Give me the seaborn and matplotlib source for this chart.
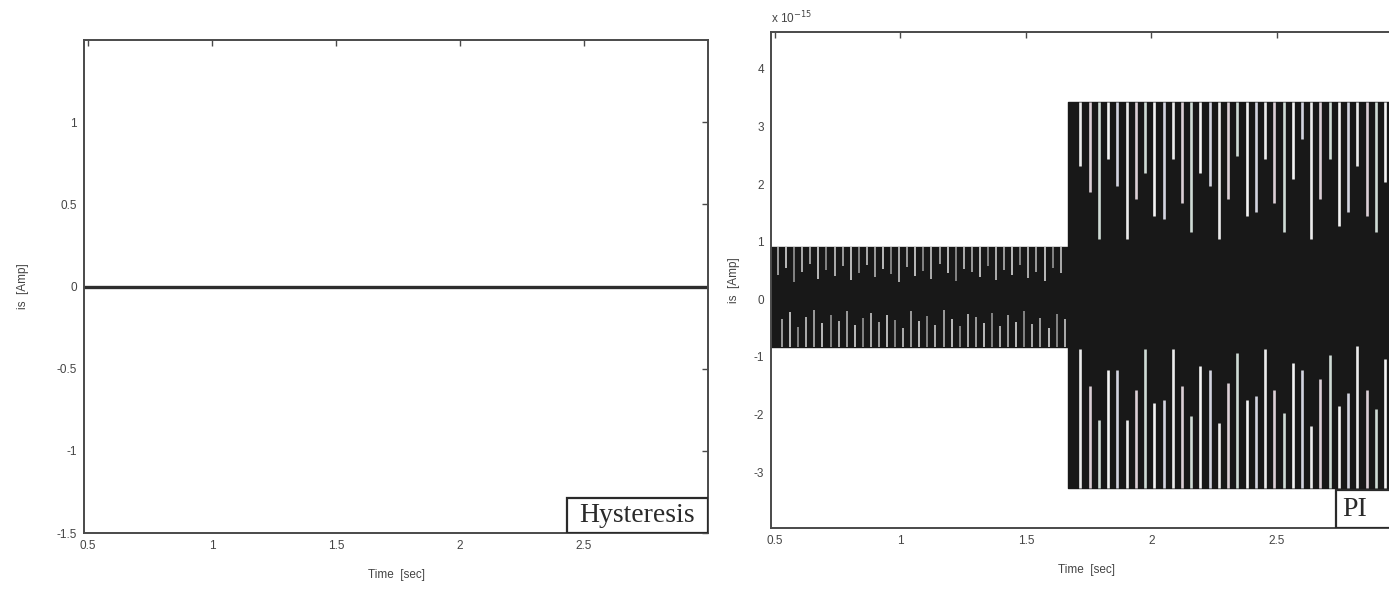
import numpy as np
import matplotlib
matplotlib.use("Agg")
import matplotlib.pyplot as plt
from matplotlib.patches import Rectangle
import seaborn as sns

sns.set_theme(style="white")
plt.rcParams["font.family"] = ["Liberation Sans", "DejaVu Sans"]

# ---- Hysteresis controller: stator current error (flat at zero) ----
hyst_time = [0.484, 3.0]
hyst_is = [0.0, 0.0]

# ---- PI controller: current envelope before / after the step ----
env_time = [0.484, 1.67, 1.67, 3.0]
env_upper = [0.90, 0.90, 3.42, 3.42]
env_lower = [-0.83, -0.83, -3.27, -3.27]

# ripple troughs inside the envelope (first segment)
pre_start, pre_period = 0.512, 0.0322
pre_top_depth = [0.42, 0.55, 0.30, 0.48, 0.62, 0.35, 0.50, 0.40, 0.58, 0.33, 0.46, 0.60,
                 0.38, 0.52, 0.44, 0.30, 0.56, 0.41, 0.49, 0.36, 0.61, 0.45, 0.32, 0.53,
                 0.47, 0.39, 0.57, 0.34, 0.50, 0.43, 0.59, 0.37, 0.48, 0.31, 0.54, 0.45]
pre_bottom_height = [-0.35, -0.22, -0.48, -0.30, -0.18, -0.42, -0.27, -0.38, -0.20, -0.45,
                     -0.33, -0.24, -0.40, -0.28, -0.36, -0.50, -0.21, -0.37, -0.29, -0.44,
                     -0.19, -0.34, -0.47, -0.26, -0.31, -0.41, -0.23, -0.46, -0.28, -0.39,
                     -0.20, -0.43, -0.32, -0.49, -0.25, -0.35]

# ripple troughs inside the envelope (second segment)
post_start, post_period = 1.718, 0.0368
post_top_depth = [2.32, 1.86, 1.04, 2.43, 1.97, 1.04, 1.74, 2.20, 1.45, 1.39, 2.43, 1.68,
                  1.16, 2.20, 1.97, 1.04, 1.74, 2.49, 1.45, 1.51, 2.43, 1.68, 1.16, 2.09,
                  2.78, 1.04, 1.74, 2.43, 1.28, 1.51, 2.32, 1.45, 1.16, 2.03]
post_bottom_height = [-0.87, -1.51, -2.09, -1.22, -1.22, -2.09, -1.57, -0.87, -1.80, -1.74,
                      -0.87, -1.51, -2.03, -1.16, -1.22, -2.14, -1.45, -0.93, -1.74, -1.68,
                      -0.87, -1.57, -1.97, -1.10, -1.22, -2.20, -1.39, -0.96, -1.86, -1.62,
                      -0.81, -1.57, -1.91, -1.04]

x_ticks = [0.5, 1, 1.5, 2, 2.5]
x_ticklabels = ["0.5", "1", "1.5", "2", "2.5"]
left_yticks = [-1.5, -1, -0.5, 0, 0.5, 1]
left_yticklabels = ["-1.5", "-1", "-0.5", "0", "0.5", "1"]
right_yticks = [-3, -2, -1, 0, 1, 2, 3, 4]
right_yticklabels = ["-3", "-2", "-1", "0", "1", "2", "3", "4"]

W, H = 1389, 590
fig = plt.figure(figsize=(W / 100, H / 100), dpi=100)
fig.patch.set_facecolor("white")

def px_axes(x0, y0, x1, y1):
    return fig.add_axes([x0 / W, 1 - y1 / H, (x1 - x0) / W, (y1 - y0) / H])

ax1 = px_axes(84, 40, 708, 533)
ax2 = px_axes(771, 32, 1402, 528)

frame_col = "#4a4a4a"
tick_col = "#444444"
for ax in (ax1, ax2):
    ax.set_facecolor("white")
    for s in ax.spines.values():
        s.set_color(frame_col)
        s.set_linewidth(1.4)
    ax.tick_params(direction="in", top=True, right=True, length=4, width=1.0,
                   colors=frame_col, labelcolor=tick_col, labelsize=8.5, pad=5)
    ax.set_xlim(0.484, 3.0)
    ax.set_xticks(x_ticks)
    ax.set_xticklabels(x_ticklabels)
    ax.set_xlabel("Time  [sec]", fontsize=8.5, color=tick_col, labelpad=12)
    ax.grid(False)

# left panel
sns.lineplot(x=hyst_time, y=hyst_is, ax=ax1, color="#2e2e2e", linewidth=2.4,
             estimator=None, sort=False)
ax1.set_ylim(-1.5, 1.5)
ax1.set_yticks(left_yticks)
ax1.set_yticklabels(left_yticklabels)
ax1.set_ylabel("is  [Amp]", fontsize=8.5, color=tick_col, labelpad=20)
ax1.add_patch(Rectangle((0.774, 0.0), 0.226, 0.071, transform=ax1.transAxes,
                        facecolor="white", edgecolor="#2a2a2a", linewidth=1.6, zorder=5))
ax1.text(0.887, 0.036, "Hysteresis", transform=ax1.transAxes, ha="center", va="center",
         fontsize=20, family="Liberation Serif", color="#2a2a2a", zorder=6)

# right panel
ax2.fill_between(env_time, env_lower, env_upper, color="#181818", linewidth=0, zorder=1)
sns.lineplot(x=env_time, y=env_upper, ax=ax2, color="#181818", linewidth=1.0, zorder=2,
             estimator=None, sort=False)
sns.lineplot(x=env_time, y=env_lower, ax=ax2, color="#181818", linewidth=1.0, zorder=2,
             estimator=None, sort=False)

pre_t = pre_start + pre_period * np.arange(len(pre_top_depth))
post_t = post_start + post_period * np.arange(len(post_top_depth))
pre_cols = ["#a6a6a6", "#c8c8c8", "#8c8c8c", "#b8b8b8"]
post_cols = ["#ececec", "#dccfd6", "#cfdcd5", "#f4f4f4", "#d3d4e0"]
for i, t in enumerate(pre_t):
    c = pre_cols[i % len(pre_cols)]
    ax2.vlines(t, pre_top_depth[i], env_upper[0], color=c, linewidth=1.3, zorder=3)
    ax2.vlines(t + pre_period / 2, env_lower[0], pre_bottom_height[i], color=c,
               linewidth=1.3, zorder=3)
for i, t in enumerate(post_t):
    c = post_cols[i % len(post_cols)]
    ax2.vlines(t, post_top_depth[i], env_upper[-1], color=c, linewidth=1.9, zorder=3)
    ax2.vlines(t, env_lower[-1], post_bottom_height[i], color=c, linewidth=1.9, zorder=3)

ax2.set_ylim(-3.97, 4.64)
ax2.set_yticks(right_yticks)
ax2.set_yticklabels(right_yticklabels)
ax2.set_ylabel("is  [Amp]", fontsize=8.5, color=tick_col, labelpad=10)
ax2.text(0.0, 1.012, r"x 10$^{-15}$", transform=ax2.transAxes, ha="left", va="bottom",
         fontsize=8.5, color=tick_col)
ax2.add_patch(Rectangle((0.895, 0.0), 0.105, 0.077, transform=ax2.transAxes,
                        facecolor="white", edgecolor="#2a2a2a", linewidth=1.6, zorder=5))
ax2.text(0.905, 0.038, "PI", transform=ax2.transAxes, ha="left", va="center",
         fontsize=20, family="Liberation Serif", color="#2a2a2a", zorder=6)

fig.savefig("out.png", dpi=100, facecolor="white")
